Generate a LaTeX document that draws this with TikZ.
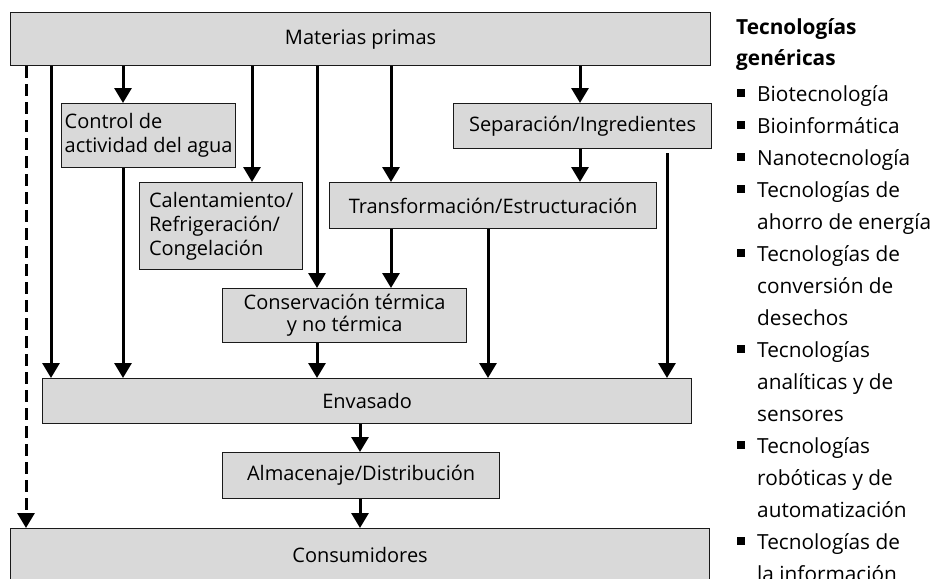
\documentclass[tikz,border=0pt]{standalone}
\usepackage{fontspec}
\setmainfont{Open Sans}
\usepackage{tikz}
\usetikzlibrary{arrows.meta}
\definecolor{bFill}{HTML}{D9D9D9}
\definecolor{bLine}{HTML}{1A1A1A}

\begin{document}
\begin{tikzpicture}[x=1pt, y=-1pt, >={Triangle[length=15pt,width=17pt]},
  box/.style={draw=bLine, fill=bFill, line width=1.2pt, anchor=north west, inner sep=0pt,
    font=\fontsize{20}{24}\selectfont, align=center},
  flow/.style={->, line width=3pt},
  item/.style={anchor=base west, inner sep=0pt, font=\fontsize{20.8}{24}\selectfont}]
  \useasboundingbox (0,0) rectangle (933,578);
  \node[box, minimum width=700, minimum height=53] (mp) at (10,12) {Materias primas};
  \node[box, minimum width=174, minimum height=64, align=left] (ctrl) at (61,103) {Control de\\actividad del agua};
  \node[box, minimum width=163, minimum height=87, align=left] (cal) at (139,182) {Calentamiento/\\Refrigeración/\\Congelación};
  \node[box, minimum width=258, minimum height=45] (sep) at (453,103) {Separación/Ingredientes};
  \node[box, minimum width=327, minimum height=46] (trans) at (329,182) {Transformación/Estructuración};
  \node[box, minimum width=244, minimum height=54, font=\fontsize{20}{22}\selectfont] (cnsv) at (222,288) {Conservación térmica\\y no térmica};
  \node[box, minimum width=649, minimum height=45] (env) at (42,378) {Envasado};
  \node[box, minimum width=277, minimum height=46] (alm) at (222,452) {Almacenaje/Distribución};
  \node[box, minimum width=699, minimum height=52] (cons) at (10,528) {Consumidores};
  \foreach \n/\x in {cd/26, c1/51, c2/123, c3/252, c4/317, c5/391, c6/580, c7/488, c9/360}
    \coordinate (\n) at (\x,0);
  \coordinate (c8) at (667,153);
  \draw[flow, dash pattern=on 12pt off 6pt] (mp.south -| cd) -- (cons.north -| cd);
  \foreach \a/\b/\c in {mp/env/c1, mp/ctrl/c2, ctrl/env/c2, mp/cal/c3, mp/cnsv/c4, cnsv/env/c4,
    mp/trans/c5, trans/cnsv/c5, mp/sep/c6, sep/trans/c6, trans/env/c7, env/alm/c9, alm/cons/c9}
    \draw[flow] (\a.south -| \c) -- (\b.north -| \c);
  \draw[flow] (c8) -- (env.north -| c8);
  \node[item, font=\fontsize{20.8}{24}\selectfont\bfseries] (tg1) at (736,35) {Tecnologías};
  \node[item, font=\fontsize{20.8}{24}\selectfont\bfseries] (tg2) at (736,65) {genéricas};
  \foreach \y/\t/\b in {101/Biotecnología/1, 133/Bioinformática/1, 165/Nanotecnología/1,
    197/Tecnologías de/1, 229/ahorro de energía/0, 261/Tecnologías de/1, 293/conversión de/0,
    325/desechos/0, 357/Tecnologías/1, 389/analíticas y de/0, 421/sensores/0, 453/Tecnologías/1,
    485/robóticas y de/0, 517/automatización/0, 549/Tecnologías de/1, 581/la información/0} {
    \node[item] (it\y) at (757,\y) {\t};
    \ifnum\b=1 \fill (737,\y-12) rectangle ++(8,8); \fi
  }
\end{tikzpicture}
\end{document}
